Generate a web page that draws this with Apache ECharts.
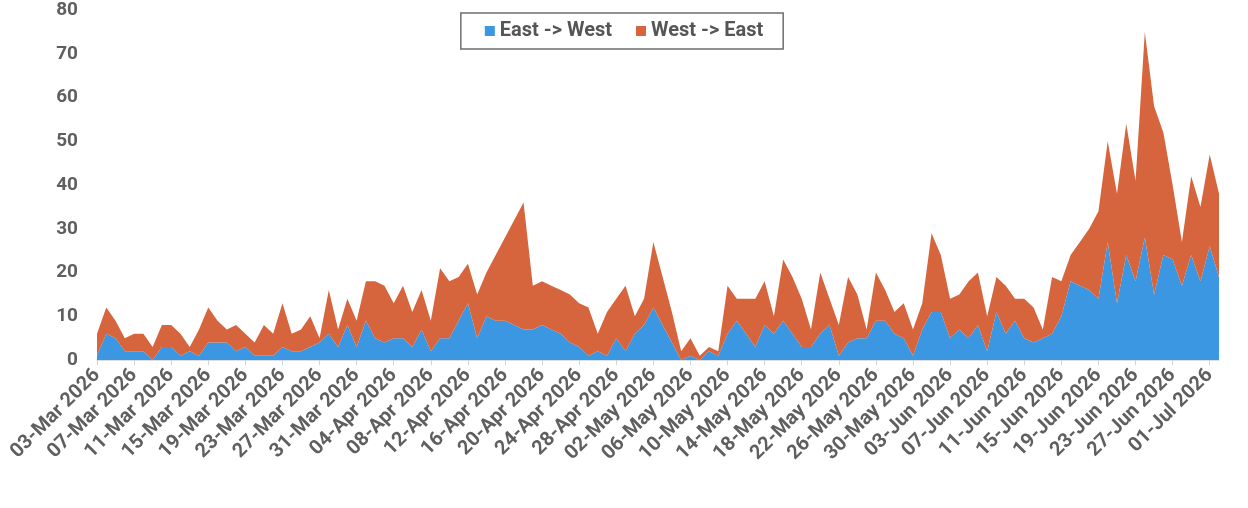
<!DOCTYPE html>
<html>
<head>
<meta charset="utf-8">
<script src="https://cdn.jsdelivr.net/npm/echarts@6/dist/echarts.min.js"></script>
<style>
html,body{margin:0;padding:0;background:#fff;}
#chart{width:1248px;height:508px;}
</style>
</head>
<body>
<div id="chart"></div>
<script>
const categories = [
  '03-Mar 2026','04-Mar 2026','05-Mar 2026','06-Mar 2026','07-Mar 2026','08-Mar 2026','09-Mar 2026','10-Mar 2026','11-Mar 2026','12-Mar 2026',
  '13-Mar 2026','14-Mar 2026','15-Mar 2026','16-Mar 2026','17-Mar 2026','18-Mar 2026','19-Mar 2026','20-Mar 2026','21-Mar 2026','22-Mar 2026',
  '23-Mar 2026','24-Mar 2026','25-Mar 2026','26-Mar 2026','27-Mar 2026','28-Mar 2026','29-Mar 2026','30-Mar 2026','31-Mar 2026',
  '01-Apr 2026','02-Apr 2026','03-Apr 2026','04-Apr 2026','05-Apr 2026','06-Apr 2026','07-Apr 2026','08-Apr 2026','09-Apr 2026','10-Apr 2026',
  '11-Apr 2026','12-Apr 2026','13-Apr 2026','14-Apr 2026','15-Apr 2026','16-Apr 2026','17-Apr 2026','18-Apr 2026','19-Apr 2026','20-Apr 2026',
  '21-Apr 2026','22-Apr 2026','23-Apr 2026','24-Apr 2026','25-Apr 2026','26-Apr 2026','27-Apr 2026','28-Apr 2026','29-Apr 2026','30-Apr 2026',
  '01-May 2026','02-May 2026','03-May 2026','04-May 2026','05-May 2026','06-May 2026','07-May 2026','08-May 2026','09-May 2026','10-May 2026',
  '11-May 2026','12-May 2026','13-May 2026','14-May 2026','15-May 2026','16-May 2026','17-May 2026','18-May 2026','19-May 2026','20-May 2026',
  '21-May 2026','22-May 2026','23-May 2026','24-May 2026','25-May 2026','26-May 2026','27-May 2026','28-May 2026','29-May 2026','30-May 2026','31-May 2026',
  '01-Jun 2026','02-Jun 2026','03-Jun 2026','04-Jun 2026','05-Jun 2026','06-Jun 2026','07-Jun 2026','08-Jun 2026','09-Jun 2026','10-Jun 2026',
  '11-Jun 2026','12-Jun 2026','13-Jun 2026','14-Jun 2026','15-Jun 2026','16-Jun 2026','17-Jun 2026','18-Jun 2026','19-Jun 2026','20-Jun 2026',
  '21-Jun 2026','22-Jun 2026','23-Jun 2026','24-Jun 2026','25-Jun 2026','26-Jun 2026','27-Jun 2026','28-Jun 2026','29-Jun 2026','30-Jun 2026',
  '01-Jul 2026','02-Jul 2026'
];

const eastToWest = [
  1,6,5,2,2,2,0,3,3,1, 2,1,4,4,4,2,3,1,1,1,
  3,2,2,3,4,6,3,8,3,9, 5,4,5,5,3,7,2,5,5,9,
  13,5,10,9,9,8,7,7,8,7, 6,4,3,1,2,1,5,2,6,8,
  12,8,4,0,1,0,2,1,6,9, 6,3,8,6,9,6,3,3,6,8,
  1,4,5,5,9,9,6,5,1,7, 11,11,5,7,5,8,2,11,6,9,
  5,4,5,6,10,18,17,16,14,27, 13,24,18,28,15,24,23,17,24,18,
  26,19
];

const westToEast = [
  5,6,4,3,4,4,3,5,5,5, 1,6,8,5,3,6,3,3,7,5,
  10,4,5,7,1,10,4,6,6,9, 13,13,8,12,8,9,7,16,13,10,
  9,10,10,15,19,24,29,10,10,10, 10,11,10,11,4,10,9,15,4,6,
  15,11,7,2,4,1,1,1,11,5, 8,11,10,4,14,13,11,4,14,6,
  7,15,10,2,11,7,5,8,6,6, 18,13,9,8,13,12,8,8,11,5,
  9,8,2,13,8,6,10,14,20,23, 25,30,23,47,43,28,17,10,18,17,
  21,19
];

const yTicks = { min: 0, max: 80, interval: 10 };

const chart = echarts.init(document.getElementById('chart'), null, { renderer: 'canvas' });
const fontFam = 'Roboto, "Noto Sans", sans-serif';
chart.setOption({
  animation: false,
  backgroundColor: '#ffffff',
  legend: {
    top: 13,
    left: 'center',
    padding: [8, 20, 8, 24],
    itemGap: 24,
    itemWidth: 10,
    itemHeight: 10,
    icon: 'rect',
    borderColor: '#6e6e6e',
    borderWidth: 1.5,
    textStyle: { fontFamily: fontFam, fontWeight: 'bold', fontSize: 20, color: '#555' },
    data: ['East -> West', 'West -> East']
  },
  grid: { left: 97, right: 29, top: 10, bottom: 148, containLabel: false },
  xAxis: {
    type: 'category',
    boundaryGap: false,
    data: categories,
    axisLine: { show: true, lineStyle: { color: '#cfd4d9', width: 1.5 } },
    axisTick: { show: true, interval: 3, length: 5, lineStyle: { color: '#cfd4d9' } },
    axisLabel: {
      interval: 3,
      rotate: 45,
      margin: 12,
      fontFamily: fontFam,
      fontWeight: 'bold',
      fontSize: 20,
      color: '#5f5f5f'
    },
    splitLine: { show: false }
  },
  yAxis: {
    type: 'value',
    min: yTicks.min,
    max: yTicks.max,
    interval: yTicks.interval,
    axisLine: { show: false },
    axisTick: { show: false },
    splitLine: { show: false },
    axisLabel: {
      margin: 19,
      fontFamily: fontFam,
      fontWeight: 'bold',
      fontSize: 19,
      color: '#5f5f5f'
    }
  },
  series: [
    {
      name: 'East -> West',
      type: 'line',
      stack: 'total',
      data: eastToWest,
      symbol: 'none',
      lineStyle: { width: 0 },
      itemStyle: { color: '#3b97e2' },
      areaStyle: { color: '#3b97e2', opacity: 1 }
    },
    {
      name: 'West -> East',
      type: 'line',
      stack: 'total',
      data: westToEast,
      symbol: 'none',
      lineStyle: { width: 0 },
      itemStyle: { color: '#d6643d' },
      areaStyle: { color: '#d6643d', opacity: 1 }
    }
  ]
});
</script>
</body>
</html>
